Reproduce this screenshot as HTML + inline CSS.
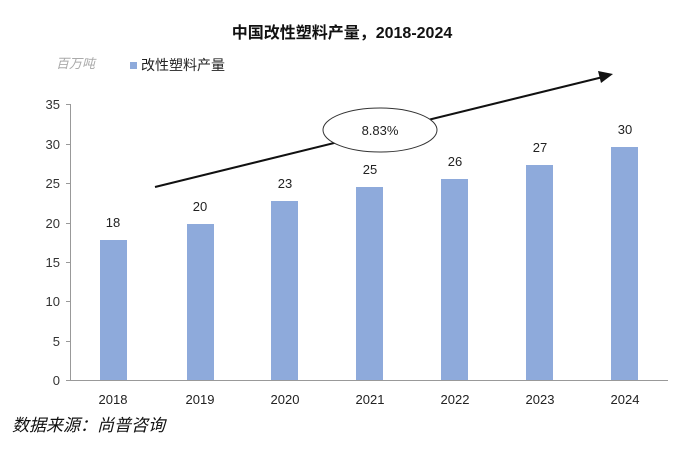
<!DOCTYPE html>
<html><head><meta charset="utf-8"><style>
body{margin:0;background:#fff;}
svg text{font-family:"Liberation Sans","Noto Sans CJK SC",sans-serif;}
</style></head><body>
<svg width="684" height="447" viewBox="0 0 684 447" xmlns="http://www.w3.org/2000/svg">
<text x="342" y="38" text-anchor="middle" font-size="16" font-weight="bold" fill="#111">中国改性塑料产量，2018-2024</text>
<text x="56" y="68" font-size="13" font-style="italic" fill="#aaa">百万吨</text>
<rect x="130" y="62" width="7" height="7" fill="#8eaadb"/>
<text x="141" y="70" font-size="14" fill="#222">改性塑料产量</text>
<g stroke="#999" stroke-width="1">
<line x1="70.5" y1="104" x2="70.5" y2="381"/>
<line x1="70" y1="380.5" x2="668" y2="380.5"/>
<line x1="66" y1="104.5" x2="70" y2="104.5"/><line x1="66" y1="144.5" x2="70" y2="144.5"/>
<line x1="66" y1="183.5" x2="70" y2="183.5"/><line x1="66" y1="223.5" x2="70" y2="223.5"/>
<line x1="66" y1="262.5" x2="70" y2="262.5"/><line x1="66" y1="301.5" x2="70" y2="301.5"/>
<line x1="66" y1="341.5" x2="70" y2="341.5"/><line x1="66" y1="380.5" x2="70" y2="380.5"/>
</g>
<g font-size="13" fill="#333" text-anchor="end">
<text x="60" y="109">35</text><text x="60" y="149">30</text><text x="60" y="188">25</text>
<text x="60" y="228">20</text><text x="60" y="267">15</text><text x="60" y="306">10</text>
<text x="60" y="346">5</text><text x="60" y="385">0</text>
</g>
<g fill="#8eaadb">
<rect x="100" y="240" width="27" height="140"/>
<rect x="187" y="224" width="27" height="156"/>
<rect x="271" y="201" width="27" height="179"/>
<rect x="356" y="187" width="27" height="193"/>
<rect x="441" y="179" width="27" height="201"/>
<rect x="526" y="165" width="27" height="215"/>
<rect x="611" y="147" width="27" height="233"/>
</g>
<g font-size="13" fill="#222" text-anchor="middle">
<text x="113" y="227">18</text><text x="200" y="211">20</text><text x="285" y="188">23</text>
<text x="370" y="174">25</text><text x="455" y="166">26</text><text x="540" y="152">27</text>
<text x="625" y="134">30</text>
</g>
<g font-size="13" fill="#222" text-anchor="middle">
<text x="113" y="404">2018</text><text x="200" y="404">2019</text><text x="285" y="404">2020</text>
<text x="370" y="404">2021</text><text x="455" y="404">2022</text><text x="540" y="404">2023</text>
<text x="625" y="404">2024</text>
</g>
<line x1="155" y1="187" x2="603" y2="77" stroke="#111" stroke-width="2"/>
<polygon points="613,74 598,71 601,83" fill="#111"/>
<ellipse cx="380" cy="130" rx="57" ry="22" fill="#fff" stroke="#333" stroke-width="1"/>
<text x="380" y="135" text-anchor="middle" font-size="13" fill="#222">8.83%</text>
<text x="12" y="431" font-size="17" font-style="italic" fill="#111">数据来源：尚普咨询</text>
</svg>
</body></html>
